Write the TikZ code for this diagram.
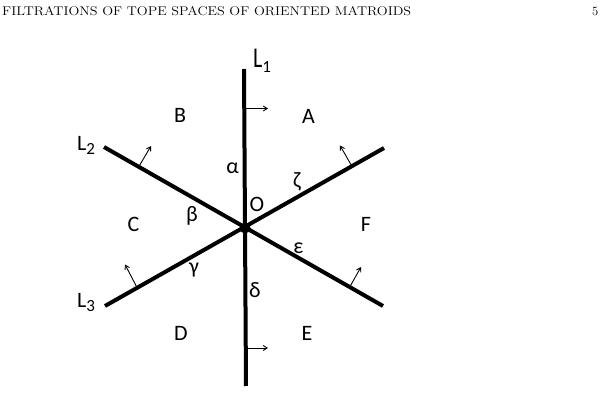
\documentclass[tikz,border=0pt]{standalone}
\usepackage{fontspec}
\newfontfamily\figfont{Carlito}
\usetikzlibrary{arrows.meta}
\tikzset{
  axis/.style={line width=4pt},
  normal/.style={line width=0.9pt,-{Straight Barb[length=4pt,width=5pt]}},
  lab/.style={font=\figfont\fontsize{22}{24}\selectfont, inner sep=0pt},
  linelab/.style={font=\figfont\fontsize{22}{24}\selectfont, inner sep=0pt, anchor=base west},
  head/.style={font=\fontsize{12.6}{14}\selectfont, inner sep=0pt, anchor=base west}
}
\newcommand{\lsub}[1]{L\raisebox{-0.45ex}{\fontsize{17}{17}\selectfont #1}}
\begin{document}
\begin{tikzpicture}[x=1pt,y=-1pt]
\useasboundingbox (0,0) rectangle (606,404);
% header
\node[head] (title) at (2,15.7) {\scalebox{1.13}[1]{FILTRATIONS OF TOPE SPACES OF ORIENTED MATROIDS}};
\node[head] (page) at (592,15.7) {5};
% line end points
\coordinate (O) at (245,228);
\coordinate (L1t) at (244,69);
\coordinate (L1b) at (246,386);
\coordinate (L2a) at (104,147);
\coordinate (L2b) at (383,306);
\coordinate (L3a) at (105,306);
\coordinate (L3b) at (384,148);
\draw[axis] (L1t) -- (L1b);
\draw[axis] (L2a) -- (L2b);
\draw[axis] (L3a) -- (L3b);
\fill (O) circle (5.5);
% normal arrows
\coordinate (n1a) at (245.5,108.5); \coordinate (n1b) at (268,108.5);
\coordinate (n2a) at (246,348); \coordinate (n2b) at (268,348);
\coordinate (n3a) at (139.5,165.5); \coordinate (n3b) at (151,146);
\coordinate (n4a) at (351.5,165.5); \coordinate (n4b) at (340,145.5);
\coordinate (n5a) at (136.5,286.5); \coordinate (n5b) at (125,264.5);
\coordinate (n6a) at (350,286.5); \coordinate (n6b) at (361,267);
\draw[normal] (n1a) -- (n1b);
\draw[normal] (n2a) -- (n2b);
\draw[normal] (n3a) -- (n3b);
\draw[normal] (n4a) -- (n4b);
\draw[normal] (n5a) -- (n5b);
\draw[normal] (n6a) -- (n6b);
% line labels
\node[linelab] (lL1) at (253,68) {\scalebox{1}[1.3]{L}\raisebox{-0.45ex}{\fontsize{17}{17}\selectfont 1}};
\node[linelab] (lL2) at (77,150) {\lsub{2}};
\node[linelab] (lL3) at (77,307) {\lsub{3}};
% regions
\node[lab] (A) at (308.5,116.5) {A};
\node[lab] (B) at (180,115) {B};
\node[lab] (C) at (133.5,224) {C};
\node[lab] (D) at (181,333) {D};
\node[lab] (E) at (307,333) {E};
\node[lab] (F) at (366,224) {F};
% angles
\node[lab] (alpha) at (232.5,168.5) {α};
\node[lab] (beta) at (192,216) {β};
\node[lab] (gamma) at (194,270) {γ};
\node[lab] (delta) at (255,290) {δ};
\node[lab] (eps) at (298.5,248.5) {ε};
\node[lab] (zeta) at (297,182) {ζ};
\node[lab] (o) at (257,204) {O};
\end{tikzpicture}
\end{document}
